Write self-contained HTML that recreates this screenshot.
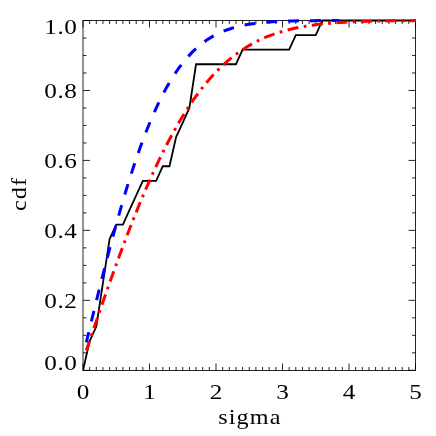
<!DOCTYPE html><html><head><meta charset="utf-8"><style>html,body{margin:0;padding:0;background:#fff}svg{display:block}text{font-family:"Liberation Serif",serif;font-size:21px;letter-spacing:0px;fill:#000}text{filter:grayscale(1)}</style></head><body>
<svg width="436" height="436" viewBox="0 0 436 436">
<rect width="436" height="436" fill="#fff"/>
<defs><clipPath id="c"><rect x="83.00" y="0" width="333.00" height="436"/></clipPath></defs>
<path d="M83.00 370.50 v-7.00 M83.00 20.50 v7.00 M89.65 370.50 v-3.50 M89.65 20.50 v3.50 M96.30 370.50 v-3.50 M96.30 20.50 v3.50 M102.95 370.50 v-3.50 M102.95 20.50 v3.50 M109.60 370.50 v-3.50 M109.60 20.50 v3.50 M116.25 370.50 v-3.50 M116.25 20.50 v3.50 M122.90 370.50 v-3.50 M122.90 20.50 v3.50 M129.55 370.50 v-3.50 M129.55 20.50 v3.50 M136.20 370.50 v-3.50 M136.20 20.50 v3.50 M142.85 370.50 v-3.50 M142.85 20.50 v3.50 M149.50 370.50 v-7.00 M149.50 20.50 v7.00 M156.15 370.50 v-3.50 M156.15 20.50 v3.50 M162.80 370.50 v-3.50 M162.80 20.50 v3.50 M169.45 370.50 v-3.50 M169.45 20.50 v3.50 M176.10 370.50 v-3.50 M176.10 20.50 v3.50 M182.75 370.50 v-3.50 M182.75 20.50 v3.50 M189.40 370.50 v-3.50 M189.40 20.50 v3.50 M196.05 370.50 v-3.50 M196.05 20.50 v3.50 M202.70 370.50 v-3.50 M202.70 20.50 v3.50 M209.35 370.50 v-3.50 M209.35 20.50 v3.50 M216.00 370.50 v-7.00 M216.00 20.50 v7.00 M222.65 370.50 v-3.50 M222.65 20.50 v3.50 M229.30 370.50 v-3.50 M229.30 20.50 v3.50 M235.95 370.50 v-3.50 M235.95 20.50 v3.50 M242.60 370.50 v-3.50 M242.60 20.50 v3.50 M249.25 370.50 v-3.50 M249.25 20.50 v3.50 M255.90 370.50 v-3.50 M255.90 20.50 v3.50 M262.55 370.50 v-3.50 M262.55 20.50 v3.50 M269.20 370.50 v-3.50 M269.20 20.50 v3.50 M275.85 370.50 v-3.50 M275.85 20.50 v3.50 M282.50 370.50 v-7.00 M282.50 20.50 v7.00 M289.15 370.50 v-3.50 M289.15 20.50 v3.50 M295.80 370.50 v-3.50 M295.80 20.50 v3.50 M302.45 370.50 v-3.50 M302.45 20.50 v3.50 M309.10 370.50 v-3.50 M309.10 20.50 v3.50 M315.75 370.50 v-3.50 M315.75 20.50 v3.50 M322.40 370.50 v-3.50 M322.40 20.50 v3.50 M329.05 370.50 v-3.50 M329.05 20.50 v3.50 M335.70 370.50 v-3.50 M335.70 20.50 v3.50 M342.35 370.50 v-3.50 M342.35 20.50 v3.50 M349.00 370.50 v-7.00 M349.00 20.50 v7.00 M355.65 370.50 v-3.50 M355.65 20.50 v3.50 M362.30 370.50 v-3.50 M362.30 20.50 v3.50 M368.95 370.50 v-3.50 M368.95 20.50 v3.50 M375.60 370.50 v-3.50 M375.60 20.50 v3.50 M382.25 370.50 v-3.50 M382.25 20.50 v3.50 M388.90 370.50 v-3.50 M388.90 20.50 v3.50 M395.55 370.50 v-3.50 M395.55 20.50 v3.50 M402.20 370.50 v-3.50 M402.20 20.50 v3.50 M408.85 370.50 v-3.50 M408.85 20.50 v3.50 M415.50 370.50 v-7.00 M415.50 20.50 v7.00 M83.00 370.30 h7.00 M415.50 370.30 h-7.00 M83.00 352.81 h3.50 M415.50 352.81 h-3.50 M83.00 335.32 h3.50 M415.50 335.32 h-3.50 M83.00 317.83 h3.50 M415.50 317.83 h-3.50 M83.00 300.34 h7.00 M415.50 300.34 h-7.00 M83.00 282.85 h3.50 M415.50 282.85 h-3.50 M83.00 265.36 h3.50 M415.50 265.36 h-3.50 M83.00 247.87 h3.50 M415.50 247.87 h-3.50 M83.00 230.38 h7.00 M415.50 230.38 h-7.00 M83.00 212.89 h3.50 M415.50 212.89 h-3.50 M83.00 195.40 h3.50 M415.50 195.40 h-3.50 M83.00 177.91 h3.50 M415.50 177.91 h-3.50 M83.00 160.42 h7.00 M415.50 160.42 h-7.00 M83.00 142.93 h3.50 M415.50 142.93 h-3.50 M83.00 125.44 h3.50 M415.50 125.44 h-3.50 M83.00 107.95 h3.50 M415.50 107.95 h-3.50 M83.00 90.46 h7.00 M415.50 90.46 h-7.00 M83.00 72.97 h3.50 M415.50 72.97 h-3.50 M83.00 55.48 h3.50 M415.50 55.48 h-3.50 M83.00 37.99 h3.50 M415.50 37.99 h-3.50 M83.00 20.50 h7.00 M415.50 20.50 h-7.00" stroke="#000" stroke-width="0.85" fill="none"/>
<rect x="83.00" y="20.50" width="332.50" height="350.00" fill="none" stroke="#000" stroke-width="0.85"/>
<g clip-path="url(#c)" fill="none" stroke-linejoin="miter">
<path d="M83.00 370.30 L89.65 341.15 L96.30 326.57 L102.95 282.85 L109.60 239.12 L116.25 224.55 L122.90 224.55 L129.55 209.98 L136.20 195.40 L142.85 180.83 L149.50 180.83 L156.15 180.83 L162.80 166.25 L169.45 166.25 L176.10 137.10 L182.75 122.52 L189.40 107.95 L196.05 64.23 L235.95 64.23 L242.60 49.65 L289.15 49.65 L295.80 35.07 L315.75 35.07 L322.40 20.50 L415.50 20.50" stroke="#000" stroke-width="1.8"/>
<path d="M86.33 342.44 L92.97 314.85 L99.62 287.81 L106.28 261.57 L112.92 236.35 L119.58 212.37 L126.23 189.78 L132.88 168.71 L139.53 149.27 L146.18 131.50 L152.82 115.41 L159.48 101.00 L166.12 88.22 L172.78 77.00 L179.43 67.24 L186.07 58.84 L192.72 51.68 L199.38 45.64 L206.03 40.59 L212.68 36.42 L219.32 33.00 L225.97 30.23 L232.62 28.00 L239.28 26.23 L245.93 24.84 L252.57 23.76 L259.23 22.93 L265.88 22.29 L272.52 21.81 L279.18 21.44 L285.82 21.18 L292.48 20.98 L299.12 20.84 L305.77 20.74 L312.43 20.66 L319.07 20.61 L325.73 20.58 L332.38 20.55 L339.02 20.53" stroke="#0000ff" stroke-width="3" stroke-dasharray="10.9 10.98" stroke-dashoffset="0.3"/>
<path d="M86.33 350.58 L92.97 330.96 L99.62 311.54 L106.28 292.40 L112.92 273.64 L119.58 255.35 L126.23 237.59 L132.88 220.45 L139.53 203.98 L146.18 188.23 L152.82 173.25 L159.48 159.07 L166.12 145.72 L172.78 133.21 L179.43 121.54 L186.07 110.71 L192.72 100.72 L199.38 91.54 L206.03 83.15 L212.68 75.52 L219.32 68.62 L225.97 62.40 L232.62 56.84 L239.28 51.87 L245.93 47.47 L252.57 43.58 L259.23 40.17 L265.88 37.19 L272.52 34.60 L279.18 32.36 L285.82 30.43 L292.48 28.77 L299.12 27.36 L305.77 26.17 L312.43 25.16 L319.07 24.32 L325.73 23.61 L332.38 23.02 L339.02 22.54 L345.68 22.14 L352.32 21.81 L358.98 21.54 L365.62 21.33 L372.27 21.15 L378.93 21.01 L385.57 20.90 L392.23 20.81 L398.88 20.74 L405.53 20.69 L412.18 20.64 L418.82 20.61 L425.48 20.58" stroke="#ff0000" stroke-width="3" stroke-dasharray="10.96 5.48 2.74 5.48" stroke-dashoffset="1.0"/>
</g>
<text transform="translate(77.30 370.40) scale(1.2 1)" text-anchor="end" style="letter-spacing:0.4px">0.0</text>
<text transform="translate(77.30 307.54) scale(1.2 1)" text-anchor="end" style="letter-spacing:0.4px">0.2</text>
<text transform="translate(77.30 237.58) scale(1.2 1)" text-anchor="end" style="letter-spacing:0.4px">0.4</text>
<text transform="translate(77.30 167.62) scale(1.2 1)" text-anchor="end" style="letter-spacing:0.4px">0.6</text>
<text transform="translate(77.30 97.66) scale(1.2 1)" text-anchor="end" style="letter-spacing:0.4px">0.8</text>
<text transform="translate(77.30 34.30) scale(1.2 1)" text-anchor="end" style="letter-spacing:0.4px">1.0</text>
<text transform="translate(83.00 399.30) scale(1.2 1)" text-anchor="middle" style="letter-spacing:0px">0</text>
<text transform="translate(149.50 399.30) scale(1.2 1)" text-anchor="middle" style="letter-spacing:0px">1</text>
<text transform="translate(216.00 399.30) scale(1.2 1)" text-anchor="middle" style="letter-spacing:0px">2</text>
<text transform="translate(282.50 399.30) scale(1.2 1)" text-anchor="middle" style="letter-spacing:0px">3</text>
<text transform="translate(349.00 399.30) scale(1.2 1)" text-anchor="middle" style="letter-spacing:0px">4</text>
<text transform="translate(415.50 399.30) scale(1.2 1)" text-anchor="middle" style="letter-spacing:0px">5</text>
<text transform="translate(249.88 423.50) scale(1.15 1)" text-anchor="middle" style="letter-spacing:1.0px">sigma</text>
<text transform="translate(26.00 193.93) rotate(-90) scale(1.15 1)" text-anchor="middle" style="letter-spacing:1.0px">cdf</text>
</svg></body></html>
